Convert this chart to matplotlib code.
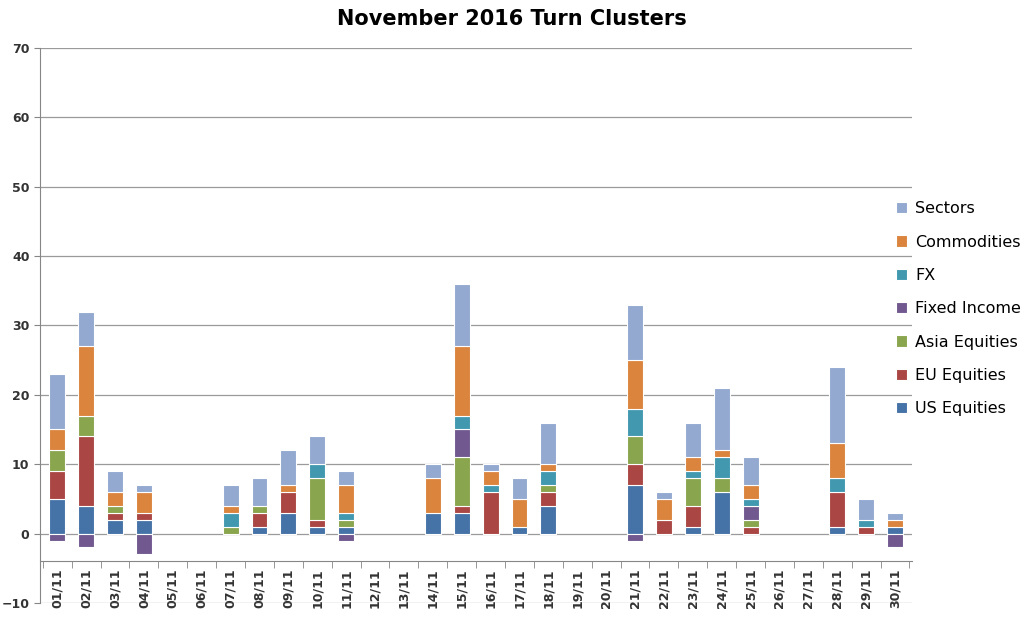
import numpy as np
import matplotlib.pyplot as plt

days = [f"{d:02d}/11" for d in range(1, 31)]
series_names = ["US Equities", "EU Equities", "Asia Equities", "Fixed Income",
                "FX", "Commodities", "Sectors"]
colors = ["#4572A7", "#AA4643", "#89A54E", "#71588F", "#4198AF", "#DB843D", "#93A9CF"]

# segment heights per day (01..30)
us_eq = [5, 4, 2, 2, 0, 0, 0, 1, 3, 1, 1, 0, 0, 3, 3, 0, 1, 4, 0, 0,
         7, 0, 1, 6, 0, 0, 0, 1, 0, 1]
eu_eq = [4, 10, 1, 1, 0, 0, 0, 2, 3, 1, 0, 0, 0, 0, 1, 6, 0, 2, 0, 0,
         3, 2, 3, 0, 1, 0, 0, 5, 1, 0]
asia_eq = [3, 3, 1, 0, 0, 0, 1, 1, 0, 6, 1, 0, 0, 0, 7, 0, 0, 1, 0, 0,
           4, 0, 4, 2, 1, 0, 0, 0, 0, 0]
fixed_inc = [-1, -2, 0, -3, 0, 0, 0, 0, 0, 0, -1, 0, 0, 0, 4, 0, 0, 0, 0, 0,
             -1, 0, 0, 0, 2, 0, 0, 0, 0, -2]
fx = [0, 0, 0, 0, 0, 0, 2, 0, 0, 2, 1, 0, 0, 0, 2, 1, 0, 2, 0, 0,
      4, 0, 1, 3, 1, 0, 0, 2, 1, 0]
commodities = [3, 10, 2, 3, 0, 0, 1, 0, 1, 0, 4, 0, 0, 5, 10, 2, 4, 1, 0, 0,
               7, 3, 2, 1, 2, 0, 0, 5, 0, 1]
sectors = [8, 5, 3, 1, 0, 0, 3, 4, 5, 4, 2, 0, 0, 2, 9, 1, 3, 6, 0, 0,
           8, 1, 5, 9, 4, 0, 0, 11, 3, 1]

data = [us_eq, eu_eq, asia_eq, fixed_inc, fx, commodities, sectors]

fig = plt.figure(figsize=(10.24, 6.21), dpi=100)
ax = fig.add_axes([0.039, 0.029, 0.852, 0.894])
for s in ["top", "right"]:
    ax.spines[s].set_visible(False)
ax.spines["left"].set_color("#868686")
ax.spines["bottom"].set_color("#868686")
ax.spines["bottom"].set_position(("data", -4))

x = np.arange(len(days))
pos_bottom = np.zeros(len(days))
neg_bottom = np.zeros(len(days))
handles = []
for name, vals, col in zip(series_names, data, colors):
    vals = np.array(vals, dtype=float)
    bottom = np.where(vals >= 0, pos_bottom, neg_bottom)
    nz = vals != 0
    h = ax.bar(x[nz], vals[nz], 0.55, bottom=bottom[nz], color=col, edgecolor="white",
               linewidth=0.8, label=name, zorder=3)
    handles.append(h)
    pos_bottom += np.where(vals > 0, vals, 0)
    neg_bottom += np.where(vals < 0, vals, 0)

ax.set_ylim(-10, 70)
ax.set_yticks(range(-10, 71, 10))
ax.set_xlim(-0.6, len(days) - 0.4)
ax.set_xticks(x)
ax.set_xticks(np.arange(-0.5, len(days), 1.0), minor=True)
ax.set_xticklabels(days, rotation=90, fontsize=9, fontweight="bold", color="#333333")
ax.tick_params(axis="x", which="major", length=0, pad=5)
ax.tick_params(axis="x", which="minor", length=5, color="#868686")
ax.tick_params(axis="y", labelsize=9, length=4, color="#868686", labelcolor="#333333")
plt.setp(ax.get_yticklabels(), fontweight="bold")
ax.grid(axis="y", color="#9a9a9a", linewidth=0.9, zorder=0)

fig.suptitle("November 2016 Turn Clusters", fontsize=15, fontweight="bold", y=0.985)
ax.legend(handles[::-1], series_names[::-1], loc="center left",
          bbox_to_anchor=(0.965, 0.53), frameon=False, fontsize=11.5,
          handlelength=0.7, handleheight=0.7, labelspacing=1.15, handletextpad=0.5)

fig.savefig("out.png", dpi=100)
